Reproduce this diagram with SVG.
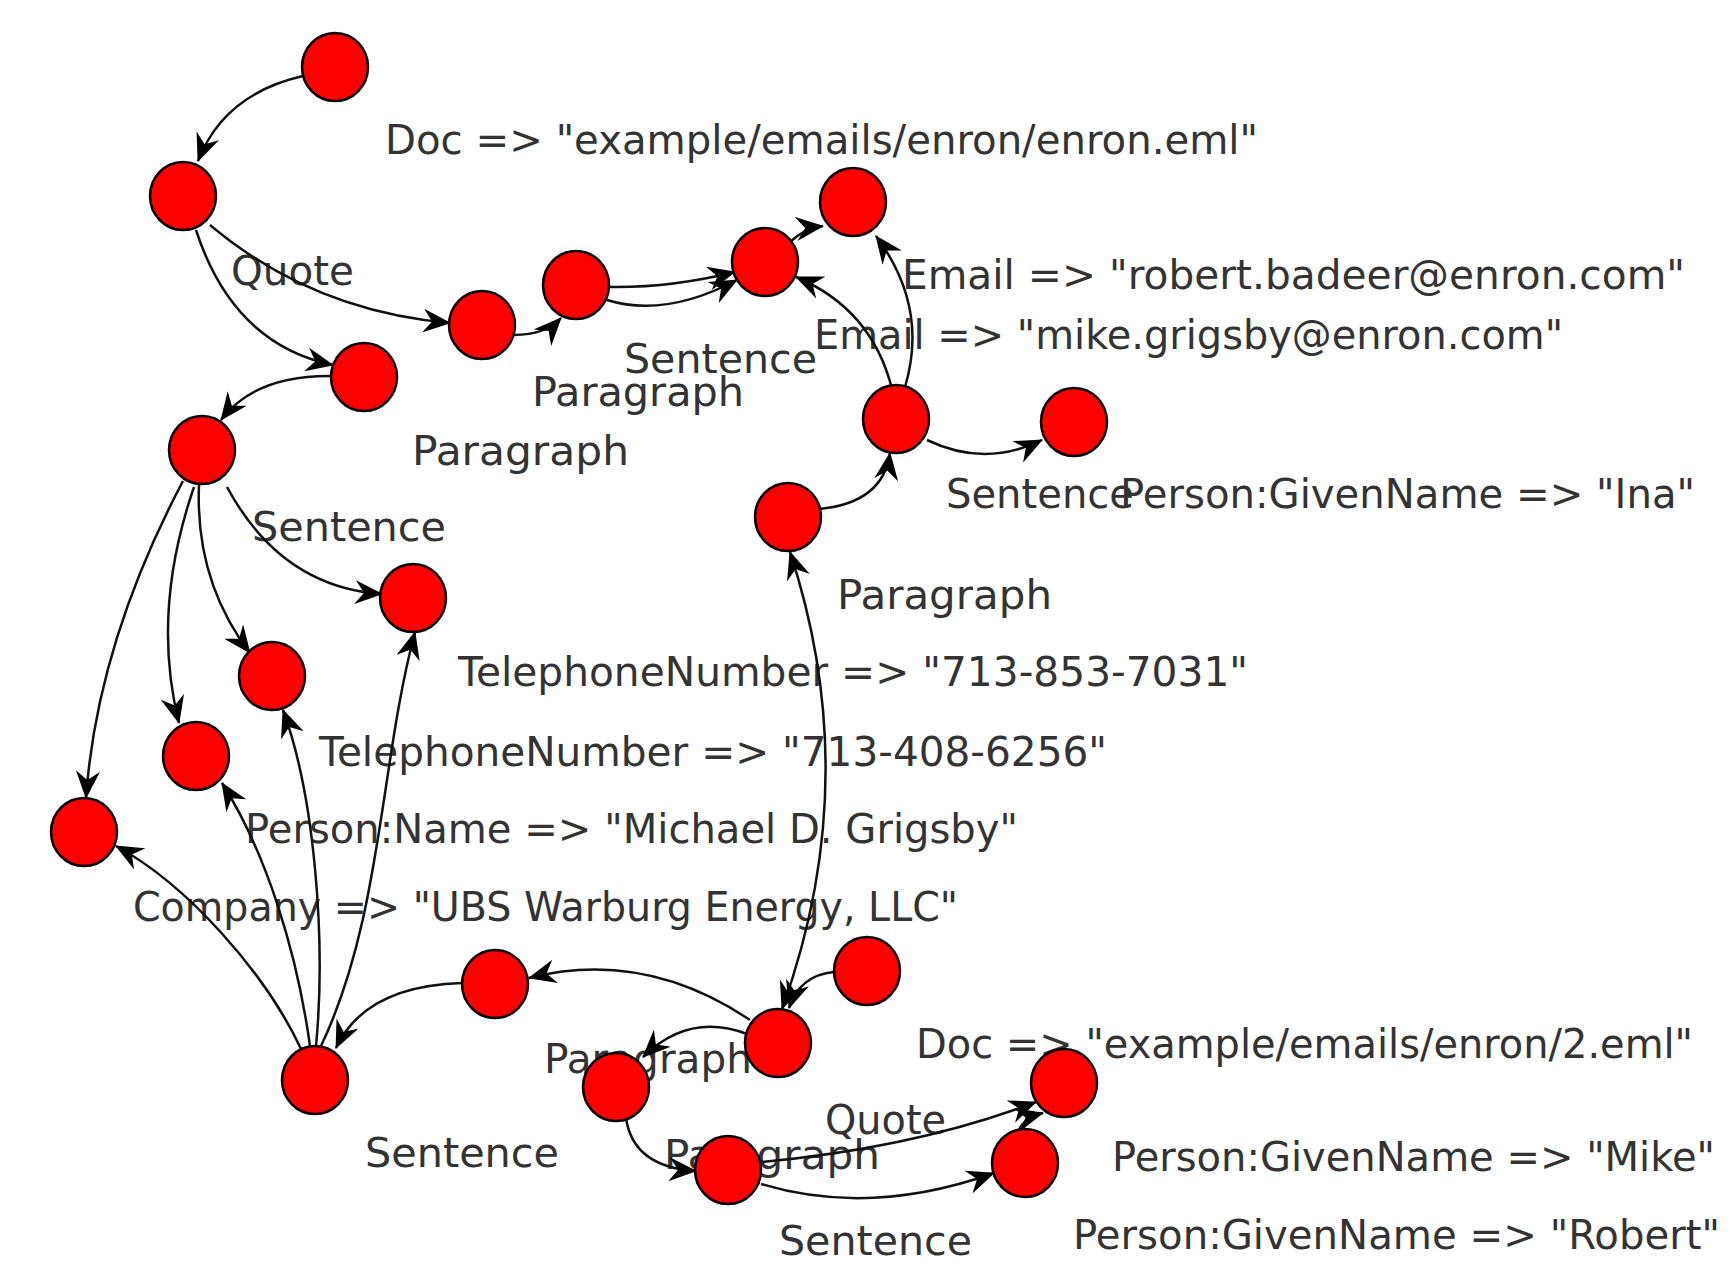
<svg xmlns="http://www.w3.org/2000/svg" width="1735" height="1270" viewBox="0 0 1735 1270">
<style>
.lbl{font-family:"DejaVu Sans","Liberation Sans",sans-serif;font-size:41px;fill:#333333}
.edge{fill:none;stroke:#111111;stroke-width:2.5;marker-end:url(#arr)}
.node ellipse{fill:#ff0000;stroke:#000000;stroke-width:2.5}
</style>
<defs>
<marker id="arr" markerUnits="userSpaceOnUse" viewBox="0 0 28 24" markerWidth="28" markerHeight="24" refX="27" refY="12" orient="auto">
<path d="M0,0 L28,12 L0,24 L9,12 z" fill="#000000"/>
</marker>
<marker id="arrs" markerUnits="userSpaceOnUse" viewBox="0 0 28 24" markerWidth="28" markerHeight="24" refX="27" refY="12" orient="auto-start-reverse">
<path d="M0,0 L28,12 L0,24 L9,12 z" fill="#000000"/>
</marker>
</defs>
<rect width="1735" height="1270" fill="#ffffff"/>
<g id="labels">
<text class="lbl" x="385" y="154" textLength="873" lengthAdjust="spacingAndGlyphs">Doc =&gt; "example/emails/enron/enron.eml"</text>
<text class="lbl" x="231" y="285" textLength="123" lengthAdjust="spacingAndGlyphs">Quote</text>
<text class="lbl" x="902" y="289" textLength="783" lengthAdjust="spacingAndGlyphs">Email =&gt; "robert.badeer@enron.com"</text>
<text class="lbl" x="814" y="349" textLength="749" lengthAdjust="spacingAndGlyphs">Email =&gt; "mike.grigsby@enron.com"</text>
<text class="lbl" x="624" y="373" textLength="193" lengthAdjust="spacingAndGlyphs">Sentence</text>
<text class="lbl" x="532" y="406" textLength="212" lengthAdjust="spacingAndGlyphs">Paragraph</text>
<text class="lbl" x="412" y="465" textLength="217" lengthAdjust="spacingAndGlyphs">Paragraph</text>
<text class="lbl" x="252" y="541" textLength="194" lengthAdjust="spacingAndGlyphs">Sentence</text>
<text class="lbl" x="946" y="508" textLength="188" lengthAdjust="spacingAndGlyphs">Sentence</text>
<text class="lbl" x="1120" y="508" textLength="575" lengthAdjust="spacingAndGlyphs">Person:GivenName =&gt; "Ina"</text>
<text class="lbl" x="837" y="609" textLength="215" lengthAdjust="spacingAndGlyphs">Paragraph</text>
<text class="lbl" x="458" y="686" textLength="790" lengthAdjust="spacingAndGlyphs">TelephoneNumber =&gt; "713-853-7031"</text>
<text class="lbl" x="319" y="766" textLength="788" lengthAdjust="spacingAndGlyphs">TelephoneNumber =&gt; "713-408-6256"</text>
<text class="lbl" x="245" y="843" textLength="773" lengthAdjust="spacingAndGlyphs">Person:Name =&gt; "Michael D. Grigsby"</text>
<text class="lbl" x="133" y="921" textLength="825" lengthAdjust="spacingAndGlyphs">Company =&gt; "UBS Warburg Energy, LLC"</text>
<text class="lbl" x="916" y="1058" textLength="777" lengthAdjust="spacingAndGlyphs">Doc =&gt; "example/emails/enron/2.eml"</text>
<text class="lbl" x="544" y="1073" textLength="208" lengthAdjust="spacingAndGlyphs">Paragraph</text>
<text class="lbl" x="825" y="1134" textLength="121" lengthAdjust="spacingAndGlyphs">Quote</text>
<text class="lbl" x="365" y="1167" textLength="194" lengthAdjust="spacingAndGlyphs">Sentence</text>
<text class="lbl" x="664" y="1169" textLength="216" lengthAdjust="spacingAndGlyphs">Paragraph</text>
<text class="lbl" x="1112" y="1171" textLength="603" lengthAdjust="spacingAndGlyphs">Person:GivenName =&gt; "Mike"</text>
<text class="lbl" x="779" y="1255" textLength="193" lengthAdjust="spacingAndGlyphs">Sentence</text>
<text class="lbl" x="1073" y="1249" textLength="647" lengthAdjust="spacingAndGlyphs">Person:GivenName =&gt; "Robert"</text>
</g>
<g id="connectors">
<path class="edge" d="M303,76 Q224,94 198,161"/>
<path class="edge" d="M210,225 Q312,311 450,323"/>
<path class="edge" d="M196,230 Q233,344 333,365"/>
<path class="edge" d="M332,376 Q255,375 221,420"/>
<path class="edge" d="M514,335 Q545,335 561,318"/>
<path class="edge" d="M609,287 Q670,288 735,272"/>
<path class="edge" d="M607,300 Q665,318 737,280"/>
<path class="edge" d="M790,242 Q805,228 823,226"/>
<path class="edge" d="M905,387 Q929,307 876,236"/>
<path class="edge" d="M892,389 Q872,309 796,277"/>
<path class="edge" d="M927,440 Q985,468 1042,440"/>
<path class="edge" d="M819,509 Q883,503 890,453"/>
<path class="edge" d="M782,1009 Q865,780 790,552" marker-start="url(#arrs)"/>
<path class="edge" d="M834,972 Q800,975 789,1008"/>
<path class="edge" d="M227,487 Q281,587 382,594"/>
<path class="edge" d="M199,485 Q195,581 250,653"/>
<path class="edge" d="M194,487 Q151,612 179,723"/>
<path class="edge" d="M183,481 Q97,644 86,798"/>
<path class="edge" d="M321,1046 C382,918 380,763 415,632"/>
<path class="edge" d="M316,1046 C326,941 315,797 283,710"/>
<path class="edge" d="M310,1046 C297,952 266,852 222,783"/>
<path class="edge" d="M301,1049 C266,974 188,885 116,846"/>
<path class="edge" d="M462,983 Q365,986 336,1048"/>
<path class="edge" d="M750,1020 Q644,949 529,978"/>
<path class="edge" d="M747,1034 Q689,1012 643,1057"/>
<path class="edge" d="M626,1118 Q633,1167 696,1171"/>
<path class="edge" d="M761,1162 Q915,1148 1036,1102"/>
<path class="edge" d="M761,1184 Q870,1217 994,1173"/>
<path class="edge" d="M1019,1130 Q1024,1118 1043,1113"/>
</g>
<g id="n1" class="node"><ellipse cx="335" cy="67" rx="33" ry="34"/></g>
<g id="n2" class="node"><ellipse cx="183" cy="196" rx="33" ry="34"/></g>
<g id="n3" class="node"><ellipse cx="364" cy="377" rx="33" ry="34"/></g>
<g id="n4" class="node"><ellipse cx="482" cy="325" rx="33" ry="34"/></g>
<g id="n5" class="node"><ellipse cx="576" cy="285" rx="33" ry="34"/></g>
<g id="n6" class="node"><ellipse cx="765" cy="262" rx="33" ry="34"/></g>
<g id="n7" class="node"><ellipse cx="853" cy="202" rx="33" ry="34"/></g>
<g id="n8" class="node"><ellipse cx="896" cy="419" rx="33" ry="34"/></g>
<g id="n9" class="node"><ellipse cx="1074" cy="422" rx="33" ry="34"/></g>
<g id="n10" class="node"><ellipse cx="788" cy="517" rx="33" ry="34"/></g>
<g id="n11" class="node"><ellipse cx="202" cy="450" rx="33" ry="34"/></g>
<g id="n12" class="node"><ellipse cx="413" cy="598" rx="33" ry="34"/></g>
<g id="n13" class="node"><ellipse cx="272" cy="676" rx="33" ry="34"/></g>
<g id="n14" class="node"><ellipse cx="196" cy="756" rx="33" ry="34"/></g>
<g id="n15" class="node"><ellipse cx="84" cy="832" rx="33" ry="34"/></g>
<g id="n16" class="node"><ellipse cx="315" cy="1080" rx="33" ry="34"/></g>
<g id="n17" class="node"><ellipse cx="495" cy="984" rx="33" ry="34"/></g>
<g id="n18" class="node"><ellipse cx="778" cy="1043" rx="33" ry="34"/></g>
<g id="n19" class="node"><ellipse cx="867" cy="971" rx="33" ry="34"/></g>
<g id="n20" class="node"><ellipse cx="616" cy="1087" rx="33" ry="34"/></g>
<g id="n21" class="node"><ellipse cx="728" cy="1170" rx="33" ry="34"/></g>
<g id="n22" class="node"><ellipse cx="1064" cy="1083" rx="33" ry="34"/></g>
<g id="n23" class="node"><ellipse cx="1025" cy="1163" rx="33" ry="34"/></g>
</svg>
